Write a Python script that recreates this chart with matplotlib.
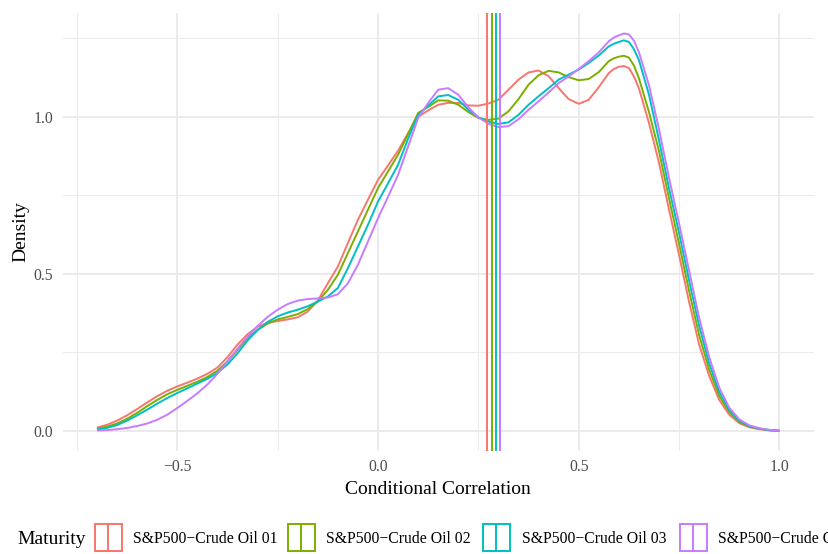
import matplotlib
matplotlib.use("Agg")
import matplotlib.pyplot as plt
from matplotlib.patches import Rectangle
from matplotlib.lines import Line2D

plt.rcParams['font.family'] = ['Liberation Serif', 'DejaVu Serif']

# ---------------- data ----------------
x_grid = [-0.700, -0.675, -0.650, -0.625, -0.600, -0.575, -0.550, -0.525, -0.500, -0.475,
          -0.450, -0.425, -0.400, -0.375, -0.350, -0.325, -0.300, -0.275, -0.250, -0.225,
          -0.200, -0.175, -0.150,
          -0.125, -0.100, -0.075, -0.050, -0.025, 0.000, 0.025, 0.050, 0.075, 0.100,
          0.125, 0.150, 0.175, 0.200, 0.225, 0.250, 0.275, 0.300, 0.325, 0.350,
          0.375, 0.400, 0.425, 0.450, 0.475, 0.500, 0.525, 0.550, 0.575,
          0.5875, 0.600, 0.6125, 0.625, 0.6375, 0.650, 0.675, 0.700, 0.725,
          0.750, 0.775, 0.800, 0.825, 0.850, 0.875, 0.900, 0.925, 0.950, 0.975, 1.000]

dens_01 = [0.011, 0.020, 0.033, 0.050, 0.070, 0.091, 0.111, 0.128, 0.142, 0.154,
           0.167, 0.182, 0.202, 0.235, 0.275, 0.308, 0.332, 0.344, 0.350, 0.355,
           0.362, 0.380, 0.415,
           0.470, 0.523, 0.598, 0.672, 0.736, 0.799, 0.845, 0.892, 0.948, 1.000,
           1.020, 1.038, 1.044, 1.044, 1.036, 1.035, 1.042, 1.054, 1.086, 1.118,
           1.141, 1.147, 1.129, 1.091, 1.056, 1.041, 1.054, 1.094, 1.139,
           1.152, 1.159, 1.161, 1.155, 1.128, 1.090, 0.980, 0.853, 0.704,
           0.560, 0.410, 0.275, 0.175, 0.099, 0.052, 0.025, 0.012, 0.006, 0.002, 0.001]

dens_02 = [0.007, 0.014, 0.024, 0.039, 0.058, 0.079, 0.099, 0.117, 0.131, 0.144,
           0.157, 0.172, 0.192, 0.222, 0.258, 0.295, 0.322, 0.342, 0.355, 0.363,
           0.372, 0.388, 0.412,
           0.449, 0.497, 0.566, 0.635, 0.704, 0.773, 0.826, 0.879, 0.945, 1.012,
           1.031, 1.052, 1.051, 1.038, 1.015, 0.996, 0.990, 0.994, 1.017, 1.056,
           1.102, 1.132, 1.146, 1.141, 1.126, 1.116, 1.120, 1.142, 1.177,
           1.186, 1.191, 1.194, 1.188, 1.163, 1.122, 1.015, 0.890, 0.740,
           0.595, 0.445, 0.305, 0.195, 0.112, 0.060, 0.029, 0.014, 0.007, 0.003, 0.001]

dens_03 = [0.005, 0.010, 0.019, 0.033, 0.050, 0.068, 0.087, 0.105, 0.121, 0.136,
           0.151, 0.166, 0.185, 0.212, 0.247, 0.288, 0.321, 0.347, 0.365, 0.377,
           0.386, 0.397, 0.412,
           0.428, 0.455, 0.518, 0.587, 0.656, 0.730, 0.788, 0.847, 0.930, 1.006,
           1.035, 1.065, 1.069, 1.054, 1.022, 0.998, 0.985, 0.977, 0.982, 1.006,
           1.038, 1.065, 1.091, 1.118, 1.134, 1.150, 1.171, 1.195, 1.224,
           1.232, 1.238, 1.243, 1.238, 1.215, 1.180, 1.070, 0.925, 0.772,
           0.630, 0.478, 0.335, 0.215, 0.125, 0.067, 0.033, 0.016, 0.008, 0.003, 0.001]

dens_04 = [0.002, 0.003, 0.006, 0.010, 0.016, 0.024, 0.036, 0.052, 0.073, 0.096,
           0.120, 0.148, 0.182, 0.222, 0.262, 0.300, 0.334, 0.363, 0.386, 0.404,
           0.415, 0.420, 0.422,
           0.425, 0.435, 0.470, 0.529, 0.603, 0.677, 0.745, 0.815, 0.905, 0.996,
           1.044, 1.086, 1.091, 1.070, 1.030, 0.998, 0.978, 0.967, 0.970, 0.992,
           1.022, 1.049, 1.077, 1.107, 1.128, 1.152, 1.177, 1.205, 1.240,
           1.252, 1.259, 1.265, 1.262, 1.242, 1.205, 1.100, 0.960, 0.805,
           0.660, 0.510, 0.360, 0.235, 0.138, 0.074, 0.037, 0.018, 0.009, 0.004, 0.001]

means = [0.272, 0.284, 0.295, 0.304]

labels = ["S&P500\u2212Crude Oil 01", "S&P500\u2212Crude Oil 02",
          "S&P500\u2212Crude Oil 03", "S&P500\u2212Crude Oil 04"]
colors = ["#F8766D", "#7CAE00", "#00BFC4", "#C77CFF"]

x_major = [-0.5, 0.0, 0.5, 1.0]
x_major_labels = ["\u22120.5", "0.0", "0.5", "1.0"]
x_minor = [-0.75, -0.25, 0.25, 0.75]
y_major = [0.0, 0.5, 1.0]
y_major_labels = ["0.0", "0.5", "1.0"]
y_minor = [0.25, 0.75, 1.25]

# ---------------- figure ----------------
W, H = 829, 554
fig = plt.figure(figsize=(W / 100, H / 100), dpi=100)
ax = fig.add_axes([62.8 / W, 1 - 451 / H, (813.6 - 62.8) / W, (451 - 13) / H])

series = [dens_01, dens_02, dens_03, dens_04]
for ys, c in zip(series, colors):
    ax.plot(x_grid, ys, color=c, lw=1.4, solid_joinstyle='round',
            solid_capstyle='butt', zorder=3)
for m, c in zip(means, colors):
    ax.axvline(m, color=c, lw=1.4, zorder=4)

ax.set_xlim(-0.785, 1.085)
ax.set_ylim(-0.0634, 1.33)

ax.set_xticks(x_major)
ax.set_xticklabels(x_major_labels)
ax.set_xticks(x_minor, minor=True)
ax.set_yticks(y_major)
ax.set_yticklabels(y_major_labels)
ax.set_yticks(y_minor, minor=True)

ax.grid(which='major', color='#EBEBEB', lw=1.4, zorder=0)
ax.grid(which='minor', color='#EBEBEB', lw=0.75, zorder=0)
ax.set_axisbelow(True)
for s in ax.spines.values():
    s.set_visible(False)
ax.tick_params(which='both', length=0)
ax.tick_params(axis='both', which='major', labelsize=11.3, labelcolor='#4D4D4D')
ax.tick_params(axis='x', pad=5.5)
ax.tick_params(axis='y', pad=7)

ax.set_xlabel("Conditional Correlation", fontsize=14, labelpad=4.5)
ax.set_ylabel("Density", fontsize=14, labelpad=2.5)

# ---------------- legend (bottom, ggplot style) ----------------
def fx(px):
    return px / W

def fy(py):
    return 1 - py / H

fig.text(fx(17), fy(540), "Maturity", fontsize=14, va='center', ha='left')
key_x = [95, 288, 483, 680]
text_x = [133, 326, 522, 718]
key_w, key_top, key_bot = 27, 524, 551
for kx, tx, c, lab in zip(key_x, text_x, colors, labels):
    r = Rectangle((fx(kx), fy(key_bot)), key_w / W, (key_bot - key_top) / H,
                  transform=fig.transFigure, fill=False, edgecolor=c, lw=1.4)
    fig.add_artist(r)
    fig.add_artist(Line2D([fx(kx + key_w / 2), fx(kx + key_w / 2)],
                          [fy(key_bot), fy(key_top)],
                          transform=fig.transFigure, color=c, lw=1.4))
    fig.text(fx(tx), fy(539), lab, fontsize=11.3, va='center', ha='left')

fig.savefig("out.png", dpi=100)
